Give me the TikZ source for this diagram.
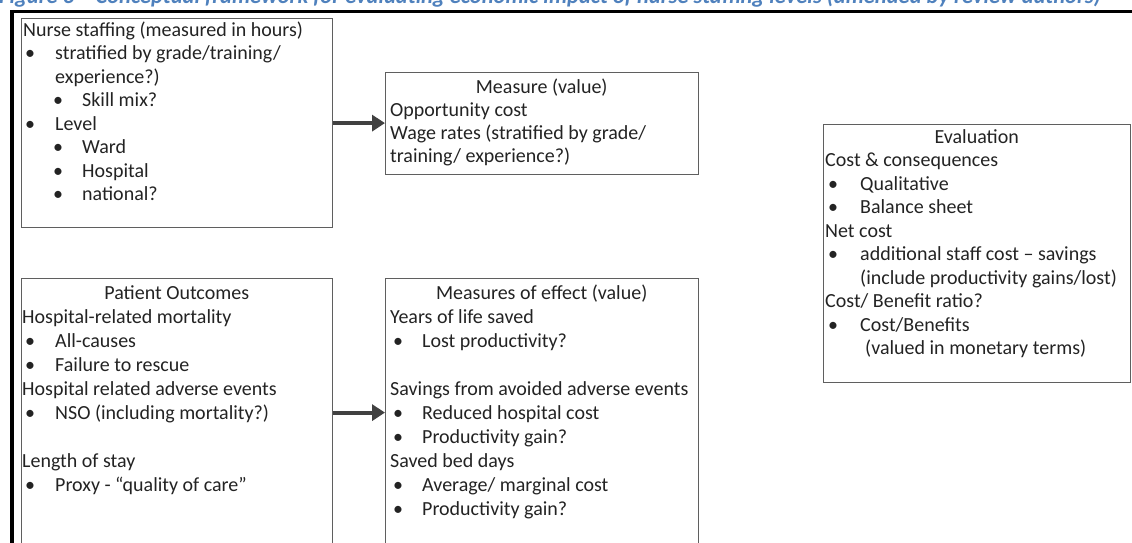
\documentclass[tikz,border=0pt]{standalone}
\usepackage{fontspec}
\setmainfont{Carlito}
\usetikzlibrary{arrows.meta}

\definecolor{titleblue}{RGB}{79,129,189}
\definecolor{boxgray}{RGB}{95,95,95}
\definecolor{arrowgray}{RGB}{65,65,65}
\definecolor{ink}{RGB}{35,35,35}

% body font with a given line pitch
\newcommand\fsz[1]{\fontsize{20}{#1}\selectfont}
% bullet line: gap before the bullet, bullet column width, text
\newcommand\bi[3]{\hspace*{#1}\makebox[#2][l]{\textbullet}#3}

\begin{document}
\begin{tikzpicture}[x=1pt,y=-1pt,
  box/.style={draw=boxgray, line width=1.2pt, rectangle, inner sep=0pt, anchor=north west},
  txt/.style={anchor=base west, inner sep=0pt, text=ink, font=\fsz{23.5}},
  flow/.style={draw=arrowgray, line width=4pt, -{Triangle[length=13pt,width=16pt]}},
  frame/.style={line width=3.5pt, black}]
\useasboundingbox (0,0) rectangle (1132,543);
\clip (0,0) rectangle (1132,543);

% caption
\node[anchor=base west, inner sep=0pt, text=titleblue,
      font=\fontsize{22.5}{26}\selectfont\bfseries\itshape] (caption) at (-1,4)
  {Figure 3 -- Conceptual framework for evaluating economic impact of nurse staffing levels (amended by review authors)};

% outer frame
\draw[frame] (10,11.5) -- (1132,11.5);
\draw[frame] (12,10) -- (12,543);

% boxes
\node[box, minimum width=311pt, minimum height=209pt] (staff)   at (21,18)  {};
\node[box, minimum width=313pt, minimum height=102pt] (measure) at (385,72) {};
\node[box, minimum width=311pt, minimum height=268pt] (outcome) at (21,278) {};
\node[box, minimum width=313pt, minimum height=268pt] (effect)  at (385,278) {};
\node[box, minimum width=307pt, minimum height=258pt] (evalbox) at (823,124) {};

% box contents
\node[txt] (staffT) at (23,36.5) {\begin{tabular}[t]{@{}l@{}}
Nurse staffing (measured in hours)\\
\bi{2pt}{30pt}{stratified by grade/training/}\\
\hspace*{32pt}experience?)\\
\bi{30pt}{29pt}{Skill mix?}\\
\bi{2pt}{30pt}{Level}\\
\bi{30pt}{29pt}{Ward}\\
\bi{30pt}{29pt}{Hospital}\\
\bi{30pt}{29pt}{national?}
\end{tabular}};

\node[txt, font=\fsz{23.3}] (measureT) at (390,93) {\begin{tabular}[t]{@{}l@{}}
\makebox[303pt][c]{Measure (value)}\\
Opportunity cost\\
Wage rates (stratified by grade/\\
training/ experience?)
\end{tabular}};

\node[txt, font=\fsz{24}] (outcomeT) at (22,299) {\begin{tabular}[t]{@{}l@{}}
\makebox[309pt][c]{Patient Outcomes}\\
Hospital-related mortality\\
\bi{3pt}{30pt}{All-causes}\\
\bi{3pt}{30pt}{Failure to rescue}\\
Hospital related adverse events\\
\bi{3pt}{30pt}{NSO (including mortality?)}\\
\\
Length of stay\\
\bi{3pt}{30pt}{Proxy - ``quality of care''}
\end{tabular}};

\node[txt, font=\fsz{24.1}] (effectT) at (390,299) {\begin{tabular}[t]{@{}l@{}}
\makebox[303pt][c]{Measures of effect (value)}\\
Years of life saved\\
\bi{3pt}{29pt}{Lost productivity?}\\
\\
Savings from avoided adverse events\\
\bi{3pt}{29pt}{Reduced hospital cost}\\
\bi{3pt}{29pt}{Productivity gain?}\\
Saved bed days\\
\bi{3pt}{29pt}{Average/ marginal cost}\\
\bi{3pt}{29pt}{Productivity gain?}
\end{tabular}};

\node[txt] (evalT) at (825,143) {\begin{tabular}[t]{@{}l@{}}
\makebox[303pt][c]{Evaluation}\\
Cost \& consequences\\
\bi{3pt}{32pt}{Qualitative}\\
\bi{3pt}{32pt}{Balance sheet}\\
Net cost\\
\bi{3pt}{32pt}{additional staff cost -- savings}\\
\hspace*{35pt}(include productivity gains/lost)\\
Cost/ Benefit ratio?\\
\bi{3pt}{32pt}{Cost/Benefits}\\
\hspace*{40pt}(valued in monetary terms)
\end{tabular}};

% connectors
\draw[flow] (staff.east) -- (staff.east -| measure.west);
\draw[flow] (outcome.east) -- (outcome.east -| effect.west);
\end{tikzpicture}
\end{document}
